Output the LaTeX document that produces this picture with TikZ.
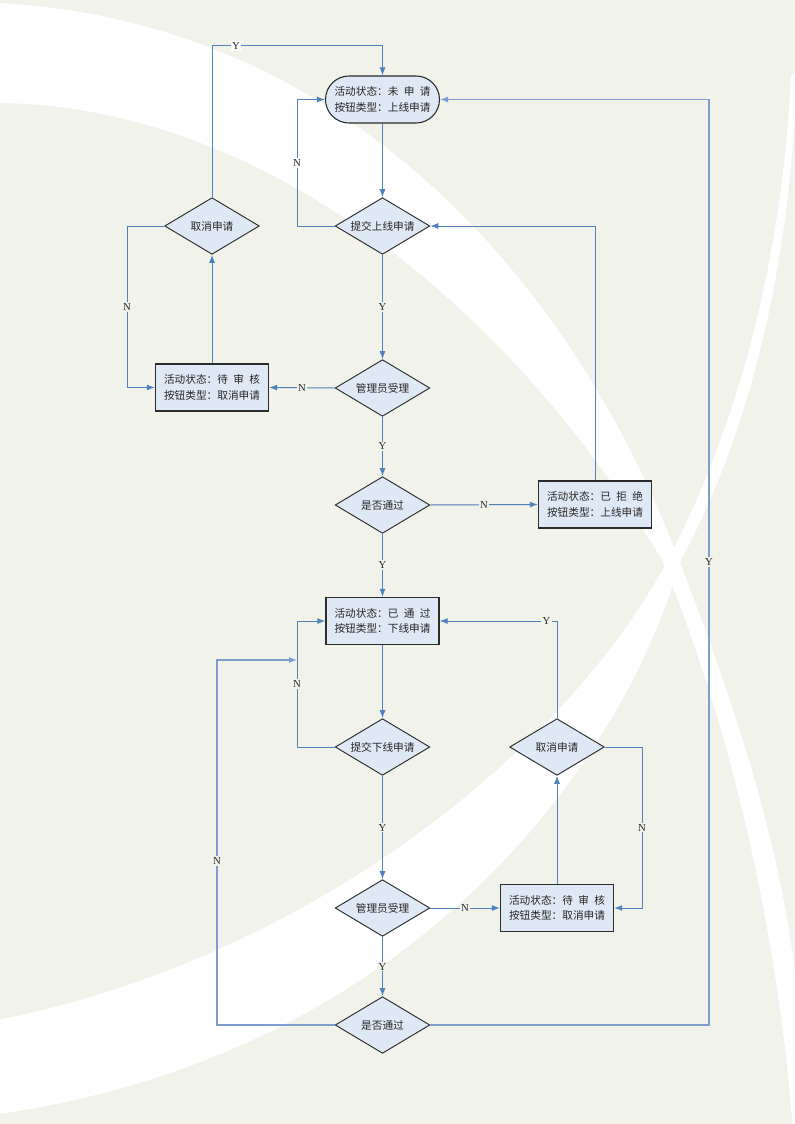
\documentclass[tikz,border=0pt]{standalone}
\usepackage{fontspec}
\setmainfont{Liberation Serif}
\newfontfamily\cjk{Noto Sans CJK SC}
\usetikzlibrary{shapes.geometric,shapes.misc,arrows.meta}
\definecolor{bgc}{HTML}{F1F2EA}
\definecolor{lc}{HTML}{4F81BD}
\definecolor{lcl}{HTML}{7D9FCF}
\definecolor{nf}{HTML}{DFE8F5}
\definecolor{nd}{HTML}{2B2B2B}
\newcommand\myspread[1]{\makebox[4em][s]{#1}}
\begin{document}
\begin{tikzpicture}[x=0.75pt,y=-0.75pt,
 base/.style={draw=nd, fill=nf, text=black!85, font=\cjk\fontsize{8pt}{11.5pt}\selectfont, align=center, inner sep=0pt},
 term/.style={base, rounded rectangle, minimum width=85.5pt, minimum height=35.25pt, line width=0.8pt},
 stbox/.style={base, rectangle, minimum width=84.75pt, minimum height=35.25pt, line width=1pt},
 dec/.style={base, diamond, aspect=1.67, minimum width=71pt, minimum height=42.5pt, line width=0.7pt},
 conn/.style={draw=lc, line width=0.75pt},
 arr/.style={conn, -{Latex[length=6pt,width=4.5pt]}},
 arrl/.style={arr, draw=lcl, line width=1pt},
 lab/.style={fill=bgc, inner sep=1pt, font=\fontsize{8pt}{9pt}\selectfont, text=black!85},
 labw/.style={lab, fill=white},
]
\useasboundingbox (0,0) rectangle (795,1124);
\fill[bgc] (0,0) rectangle (795,1124);
\begin{scope}
\clip (0,0) rectangle (795,1124);
% band A: from top-left, down to bottom-right
\fill[white] (-2,3) .. controls (330,20) and (560,260) .. (673,545)
  .. controls (740,715) and (785,860) .. (798,1000)
  -- (798,1130) -- (793,1130)
  .. controls (775,900) and (720,700) .. (662,560)
  .. controls (500,290) and (250,105) .. (-2,103) -- cycle;
% band B: thin from top-right, widening to bottom-left
\fill[white] (791,76) .. controls (780,300) and (720,460) .. (668,560)
  .. controls (560,760) and (300,960) .. (-2,1020)
  -- (-2,1114)
  .. controls (380,1060) and (610,800) .. (681,560)
  .. controls (735,460) and (790,300) .. (797,70) -- cycle;
\end{scope}

% nodes
\node[term]  (start) at (382.5,99.5) {活动状态：\myspread{未\hfill 申\hfill 请}\\按钮类型：上线申请};
\node[dec]   (sub1)  at (382.5,226) {提交上线申请};
\node[dec]   (can1)  at (212,226) {取消申请};
\node[stbox] (wait1) at (212,387.5) {活动状态：\myspread{待\hfill 审\hfill 核}\\按钮类型：取消申请};
\node[dec]   (adm1)  at (382.5,388) {管理员受理};
\node[dec]   (pass1) at (382.5,505) {是否通过};
\node[stbox] (rej)   at (595,504.5) {活动状态：\myspread{已\hfill 拒\hfill 绝}\\按钮类型：上线申请};
\node[stbox] (ok)    at (382.5,621) {活动状态：\myspread{已\hfill 通\hfill 过}\\按钮类型：下线申请};
\node[dec]   (sub2)  at (382.5,747) {提交下线申请};
\node[dec]   (can2)  at (557,747) {取消申请};
\node[dec]   (adm2)  at (382.5,908) {管理员受理};
\node[stbox] (wait2) at (557,908) {活动状态：\myspread{待\hfill 审\hfill 核}\\按钮类型：取消申请};
\node[dec]   (pass2) at (382.5,1025) {是否通过};

% helper coordinates
\coordinate (ty)  at (0,46);
\coordinate (xl1) at (297,0);
\coordinate (xl2) at (127,0);
\coordinate (xl3) at (217,0);
\coordinate (xr)  at (709,0);
\coordinate (xr2) at (642,0);
\coordinate (j21) at (297,660);

% connectors
\draw[arr] (can1.north) -- (can1.north |- ty) -- node[labw,pos=0.14]{Y} (start.north |- ty) -- (start.north);
\draw[arr] (start.south) -- (sub1.north);
\draw[arr] (sub1.west) -- (sub1.west -| xl1) -- node[labw]{N} (start.west -| xl1) -- (start.west);
\draw[arrl] (pass2.east) -- (pass2.east -| xr) -- node[lab]{Y} (start.east -| xr) -- (start.east);
\draw[arr] (sub1.south) -- node[lab]{Y} (adm1.north);
\draw[arr] (adm1.west) -- node[lab]{N} (wait1.east);
\draw[arr] (wait1.north) -- (can1.south);
\draw[arr] (can1.west) -- (can1.west -| xl2) -- node[lab]{N} (wait1.west -| xl2) -- (wait1.west);
\draw[arr] (adm1.south) -- node[lab]{Y} (pass1.north);
\draw[arr] (pass1.east) -- node[lab]{N} (rej.west);
\draw[arr] (rej.north) -- (rej.north |- sub1.east) -- (sub1.east);
\draw[arr] (pass1.south) -- node[lab]{Y} (ok.north);
\draw[arr] (ok.south) -- (sub2.north);
\draw[arr] (sub2.west) -- (sub2.west -| xl1) -- node[lab]{N} (ok.west -| xl1) -- (ok.west);
\draw[arr] (sub2.south) -- node[lab]{Y} (adm2.north);
\draw[arr] (adm2.east) -- node[lab]{N} (wait2.west);
\draw[arr] (wait2.north) -- (can2.south);
\draw[arr] (can2.north) -- (can2.north |- ok.east) -- node[lab,pos=0.09]{Y} (ok.east);
\draw[arr] (can2.east) -- (can2.east -| xr2) -- node[lab]{N} (wait2.east -| xr2) -- (wait2.east);
\draw[arr] (adm2.south) -- node[lab]{Y} (pass2.north);
\draw[arrl] (pass2.west) -- (pass2.west -| xl3) -- node[lab,pos=0.45]{N} (j21 -| xl3) -- (j21);
\end{tikzpicture}
\end{document}
